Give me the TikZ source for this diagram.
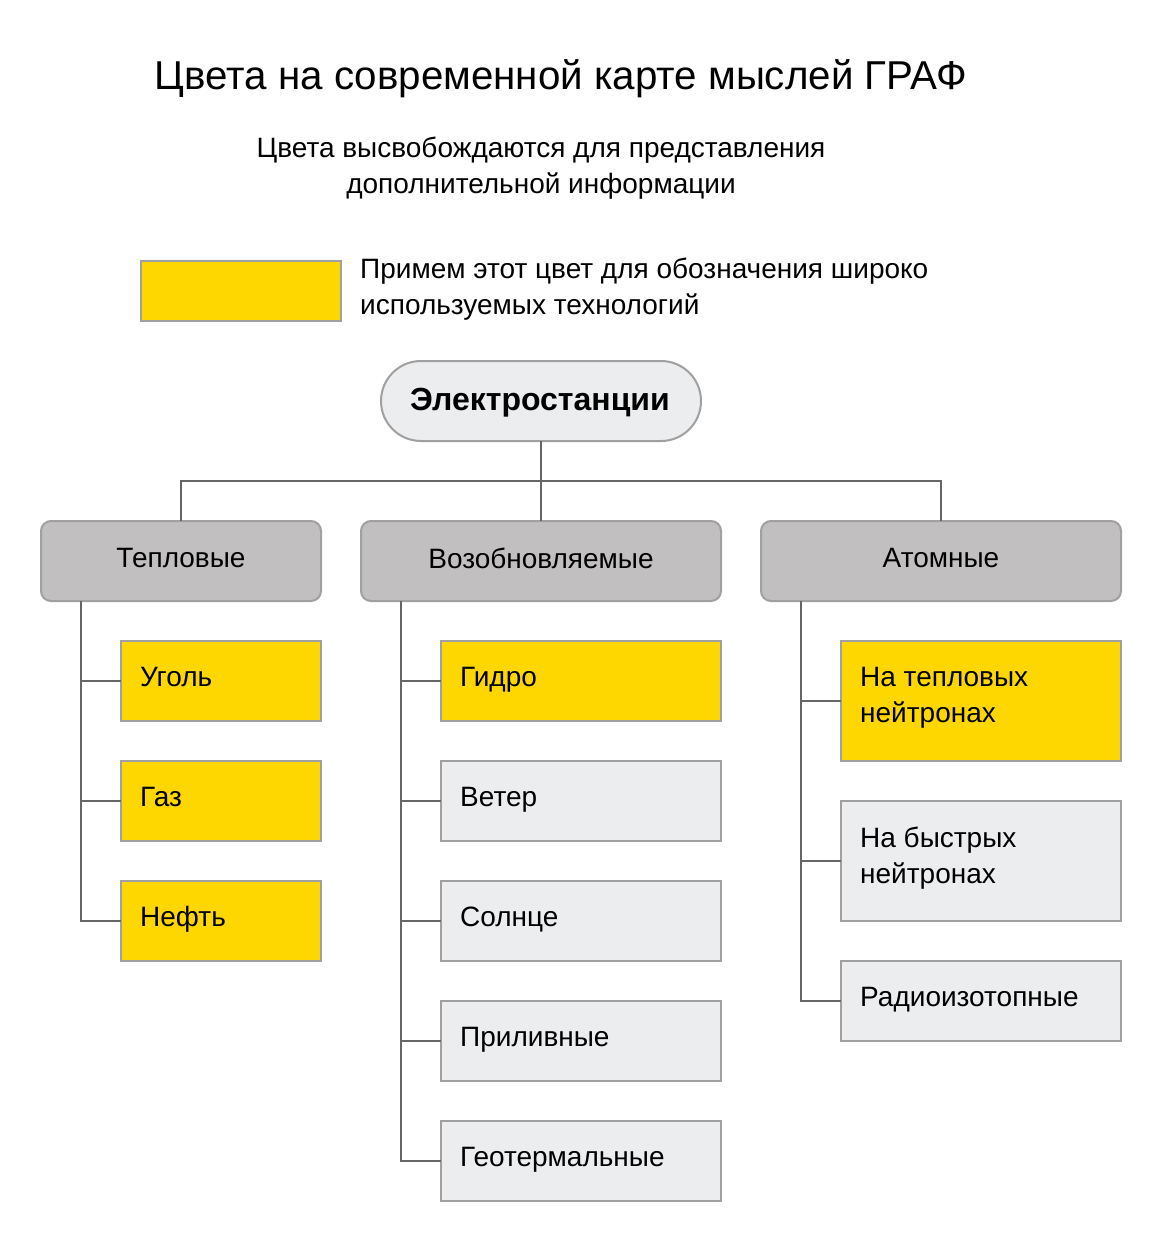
\documentclass[tikz,border=0pt]{standalone}
\usepackage{fontspec}
\setmainfont{Liberation Sans}
\definecolor{yel}{HTML}{FFD700}
\definecolor{catg}{HTML}{C1BFC0}
\definecolor{leafg}{HTML}{ECEDEF}
\definecolor{bord}{HTML}{A0A0A0}
\definecolor{conn}{HTML}{666666}
\begin{document}
\begin{tikzpicture}[x=1pt,y=-1pt,
  box/.style={draw=bord,line width=2pt,inner sep=0pt,outer sep=0pt},
  leafbox/.style={box,fill=leafg},
  yelbox/.style={box,fill=yel},
  catbox/.style={box,fill=catg,rounded corners=10pt},
  lbl/.style={inner sep=0pt,font=\fontsize{28}{36}\selectfont,align=left},
  leaf/.style={lbl,anchor=base west},
  link/.style={draw=conn,line width=2pt}]
\useasboundingbox[fill=white] (0,0) rectangle (1160,1240);
% titles
\node[inner sep=0pt,font=\fontsize{40.3}{48}\selectfont] (title) at (561,79) {Цвета на современной карте мыслей ГРАФ};
\node[inner sep=0pt,font=\fontsize{28}{36}\selectfont,align=center] (sub) at (541,168) {Цвета высвобождаются для представления\\дополнительной информации};
% legend
\draw[yelbox] (141,261) rectangle (341,321);
\node[lbl,anchor=west] (leg) at (360,289) {Примем этот цвет для обозначения широко\\используемых технологий};
% root
\draw[box,fill=leafg,rounded corners=40pt] (381,361) rectangle (701,441);
\node[inner sep=0pt,font=\fontsize{32}{38}\selectfont\bfseries] (root) at (540,403) {Электростанции};
\coordinate (rootb) at (541,441);
% categories
\draw[catbox] (41,521) rectangle (321,601);
\draw[catbox] (361,521) rectangle (721,601);
\draw[catbox] (761,521) rectangle (1121,601);
\node[inner sep=0pt,font=\fontsize{28}{34}\selectfont] (c1) at (181,558) {Тепловые};
\node[inner sep=0pt,font=\fontsize{28}{34}\selectfont] (c2) at (541,558) {Возобновляемые};
\node[inner sep=0pt,font=\fontsize{28}{34}\selectfont] (c3) at (941,558) {Атомные};
\coordinate (c1t) at (181,521); \coordinate (c2t) at (541,521); \coordinate (c3t) at (941,521);
\coordinate (j) at (541,481);
\draw[link] (rootb) -- (j);
\draw[link] (c1t) -- (181,481) -- (941,481) -- (c3t);
\draw[link] (j) -- (c2t);
% thermal leaves
\draw[yelbox] (121,641) rectangle (321,721);
\draw[yelbox] (121,761) rectangle (321,841);
\draw[yelbox] (121,881) rectangle (321,961);
\node[leaf] (t1) at (140,686) {Уголь};
\node[leaf] (t2) at (140,806) {Газ};
\node[leaf] (t3) at (140,926) {Нефть};
\draw[link] (81,601) -- (81,921) -- (121,921);
\draw[link] (81,681) -- (121,681);
\draw[link] (81,801) -- (121,801);
% renewable leaves
\draw[yelbox] (441,641) rectangle (721,721);
\draw[leafbox] (441,761) rectangle (721,841);
\draw[leafbox] (441,881) rectangle (721,961);
\draw[leafbox] (441,1001) rectangle (721,1081);
\draw[leafbox] (441,1121) rectangle (721,1201);
\node[leaf] (r1) at (460,686) {Гидро};
\node[leaf] (r2) at (460,806) {Ветер};
\node[leaf] (r3) at (460,926) {Солнце};
\node[leaf] (r4) at (460,1046) {Приливные};
\node[leaf] (r5) at (460,1166) {Геотермальные};
\draw[link] (401,601) -- (401,1161) -- (441,1161);
\draw[link] (401,681) -- (441,681);
\draw[link] (401,801) -- (441,801);
\draw[link] (401,921) -- (441,921);
\draw[link] (401,1041) -- (441,1041);
% atomic leaves
\draw[yelbox] (841,641) rectangle (1121,761);
\draw[leafbox] (841,801) rectangle (1121,921);
\draw[leafbox] (841,961) rectangle (1121,1041);
\node[lbl,anchor=west] (a1) at (860,698) {На тепловых\\нейтронах};
\node[lbl,anchor=west] (a2) at (860,858) {На быстрых\\нейтронах};
\node[leaf] (a3) at (860,1006) {Радиоизотопные};
\draw[link] (801,601) -- (801,1001) -- (841,1001);
\draw[link] (801,701) -- (841,701);
\draw[link] (801,861) -- (841,861);
\end{tikzpicture}
\end{document}
